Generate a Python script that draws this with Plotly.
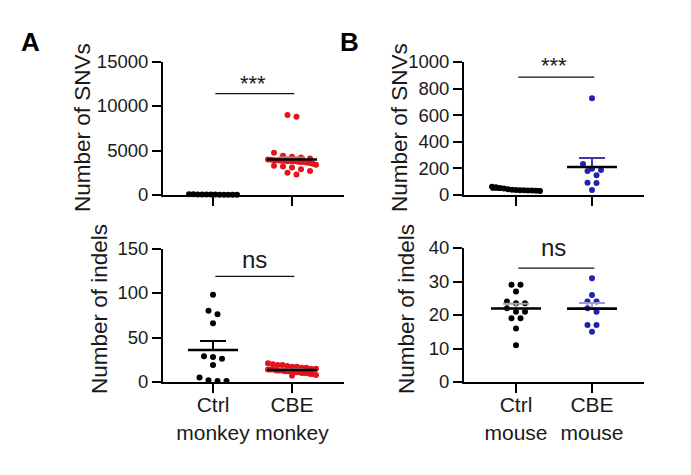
import numpy as np
import plotly.graph_objects as go

# ---------------- data ----------------
panel_letters = ["A", "B"]
monkey_groups = ["Ctrl<br>monkey", "CBE<br>monkey"]
mouse_groups = ["Ctrl<br>mouse", "CBE<br>mouse"]
y_titles = ["Number of SNVs", "Number of indels", "Number of SNVs", "Number of indels"]
sig_labels = ["***", "ns", "***", "ns"]

snv_ctrl_monkey = [95, 80, 70, 60, 55, 50, 45, 40, 35, 30, 25, 20]
snv_cbe_monkey = [9000, 8800, 4750, 4400, 4300, 4200, 4100, 4000, 3950, 3900,
                  3900, 3850, 3850, 3800, 3800, 3800, 3750, 3700, 3700, 3650,
                  3600, 3500, 3400, 3300, 3200, 3100, 2900, 2700, 2500, 2300]
indel_ctrl_monkey = [98, 80, 76, 66, 29, 28, 26, 19, 5, 2, 1, 1]
indel_cbe_monkey = [21, 20, 19, 19, 18, 17, 17, 16, 16, 15, 15, 14, 14, 14, 13,
                    13, 13, 12, 12, 12, 11, 11, 11, 10, 10, 10, 9, 9, 8, 7]
snv_ctrl_mouse = [62, 58, 52, 48, 44, 40, 38, 36, 35, 34, 33, 32, 30]
snv_cbe_mouse = [727, 233, 198, 188, 180, 148, 92, 90, 38]
indel_ctrl_mouse = [29, 29, 27, 24, 23.5, 23.5, 22, 21, 21, 19, 19, 16, 11]
indel_cbe_mouse = [31, 26, 24, 24, 22, 21, 17, 17, 15]

snv_ticks_monkey = [0, 5000, 10000, 15000]
indel_ticks_monkey = [0, 50, 100, 150]
snv_ticks_mouse = [0, 200, 400, 600, 800, 1000]
indel_ticks_mouse = [0, 10, 20, 30, 40]

# ---------------- layout / style ----------------
W, H = 691, 475
FONT = "Liberation Sans, Arial, sans-serif"
BLACK = "#000000"
RED = "#e3141c"
BLUE = "#2222b0"

panels = [
    dict(groups=monkey_groups, data=[snv_ctrl_monkey, snv_cbe_monkey], ticks=snv_ticks_monkey,
         box=(163, 344, 61.5, 195), cats=(213, 292), colors=[BLACK, RED],
         errcolors=[BLACK, "#c07070"], labels=False, sig_y=11400,
         sig_px=(253, 83), title_px=(82, 128)),
    dict(groups=monkey_groups, data=[indel_ctrl_monkey, indel_cbe_monkey], ticks=indel_ticks_monkey,
         box=(163, 344, 248.5, 382), cats=(213, 292), colors=[BLACK, RED],
         errcolors=[BLACK, "#c07070"], labels=True, sig_y=118.7,
         sig_px=(254, 259), title_px=(99, 309)),
    dict(groups=mouse_groups, data=[snv_ctrl_mouse, snv_cbe_mouse], ticks=snv_ticks_mouse,
         box=(464, 644, 62, 195), cats=(516, 592), colors=[BLACK, BLUE],
         errcolors=[BLACK, "#3a3aa0"], labels=False, sig_y=887,
         sig_px=(554, 66), title_px=(399, 128)),
    dict(groups=mouse_groups, data=[indel_ctrl_mouse, indel_cbe_mouse], ticks=indel_ticks_mouse,
         box=(464, 644, 248, 382), cats=(516, 592), colors=[BLACK, BLUE],
         errcolors=["#a0a0a0", "#9c9cd0"], labels=True, sig_y=34,
         sig_px=(553, 247), title_px=(406, 309)),
]


def swarm_offsets(vals, ppy, spacing=9.0, bin_h=6.0, max_half=24.0):
    """Prism-like column scatter: bin by pixel height, spread each bin symmetrically."""
    vals = np.asarray(vals, dtype=float)
    order = np.argsort(-vals, kind="stable")
    offs = np.zeros(len(vals))
    bins, cur, start = [], [], None
    for i in order:
        ypx = vals[i] * ppy
        if start is None or start - ypx > bin_h:
            if cur:
                bins.append(cur)
            cur, start = [i], ypx
        else:
            cur.append(i)
    if cur:
        bins.append(cur)
    for b in bins:
        n = len(b)
        s = spacing if n == 1 else min(spacing, 2 * max_half / (n - 1))
        for k, i in enumerate(b):
            offs[i] = (k - (n - 1) / 2) * s
    return offs


fig = go.Figure()
layout_axes = {}
annotations = []
shapes = []

for p_i, p in enumerate(panels):
    x0, x1, ytop, ybot = p["box"]
    c0, c1 = p["cats"]
    ppx = (c1 - c0)  # px per category unit
    ymax = p["ticks"][-1]
    ppy = (ybot - ytop) / ymax
    xr = [(x0 - c0) / ppx, (x1 - c0) / ppx]
    n = p_i + 1
    xa = "x" if n == 1 else f"x{n}"
    ya = "y" if n == 1 else f"y{n}"
    xkey = "xaxis" if n == 1 else f"xaxis{n}"
    ykey = "yaxis" if n == 1 else f"yaxis{n}"

    layout_axes[xkey] = dict(
        domain=[x0 / W, x1 / W], range=xr, anchor=ya, automargin=False,
        tickmode="array", tickvals=[0, 1], ticktext=p["groups"],
        showticklabels=p["labels"], ticks="outside", ticklen=9, tickwidth=2,
        tickcolor=BLACK, showline=True, linecolor=BLACK, linewidth=2,
        showgrid=False, zeroline=False, ticklabelstandoff=-6,
        tickfont=dict(family=FONT, size=21, color="#1a1a1a"),
    )
    layout_axes[ykey] = dict(
        domain=[1 - ybot / H, 1 - ytop / H], range=[0, ymax], anchor=xa, automargin=False,
        tickmode="array", tickvals=p["ticks"], ticktext=[str(t) for t in p["ticks"]],
        ticks="outside", ticklen=9, tickwidth=2, tickcolor=BLACK,
        showline=True, linecolor=BLACK, linewidth=2,
        showgrid=False, zeroline=False,
        tickfont=dict(family=FONT, size=18.5, color="#1a1a1a"),
    )

    for g, vals in enumerate(p["data"]):
        vals_a = np.asarray(vals, dtype=float)
        offs = swarm_offsets(vals_a, ppy) / ppx
        fig.add_trace(go.Scatter(
            x=g + offs, y=vals_a, xaxis=xa, yaxis=ya, mode="markers",
            marker=dict(size=6, color=p["colors"][g], line=dict(width=0)),
            cliponaxis=False, showlegend=False, hoverinfo="skip"))
        mean = vals_a.mean()
        sem = vals_a.std(ddof=1) / np.sqrt(len(vals_a))
        # SEM (upper) error bar
        fig.add_trace(go.Scatter(
            x=[g], y=[mean], xaxis=xa, yaxis=ya, mode="markers",
            marker=dict(size=1, opacity=0),
            error_y=dict(type="data", symmetric=False, array=[sem], arrayminus=[0],
                         width=13, thickness=2, color=p["errcolors"][g]),
            cliponaxis=False, showlegend=False, hoverinfo="skip"))
        # mean line
        half = 25 / ppx
        fig.add_trace(go.Scatter(
            x=[g - half, g + half], y=[mean, mean], xaxis=xa, yaxis=ya, mode="lines",
            line=dict(color=BLACK, width=2.6), cliponaxis=False,
            showlegend=False, hoverinfo="skip"))

    # significance bar
    shapes.append(dict(type="line", xref=xa, yref=ya, x0=0.03, x1=1.03,
                       y0=p["sig_y"], y1=p["sig_y"], line=dict(color="#111111", width=1.3)))
    sx, sy = p["sig_px"]
    annotations.append(dict(text=sig_labels[p_i], xref="paper", yref="paper",
                            x=sx / W, y=1 - sy / H, xanchor="center", yanchor="middle",
                            showarrow=False,
                            font=dict(family=FONT, size=22 if sig_labels[p_i] == "***" else 24,
                                      color="#1a1a1a")))
    tx, ty = p["title_px"]
    annotations.append(dict(text=y_titles[p_i], xref="paper", yref="paper",
                            x=tx / W, y=1 - ty / H, xanchor="center", yanchor="middle",
                            textangle=-90, showarrow=False,
                            font=dict(family=FONT, size=22.5, color="#1a1a1a")))

for letter, (lx, ly) in zip(panel_letters, [(30.5, 42), (349, 42)]):
    annotations.append(dict(text=f"<b>{letter}</b>", xref="paper", yref="paper",
                            x=lx / W, y=1 - ly / H, xanchor="center", yanchor="middle",
                            showarrow=False, font=dict(family=FONT, size=26, color=BLACK)))

fig.update_layout(
    template="none",
    width=W, height=H, autosize=False,
    margin=dict(l=0, r=0, t=0, b=0, pad=0),
    paper_bgcolor="white", plot_bgcolor="white",
    showlegend=False, annotations=annotations, shapes=shapes,
    **layout_axes,
)

fig.write_html(
    "out.html",
    config={"displayModeBar": False, "responsive": False},
    post_script="document.body.style.margin='0';document.body.style.overflow='hidden';",
)
